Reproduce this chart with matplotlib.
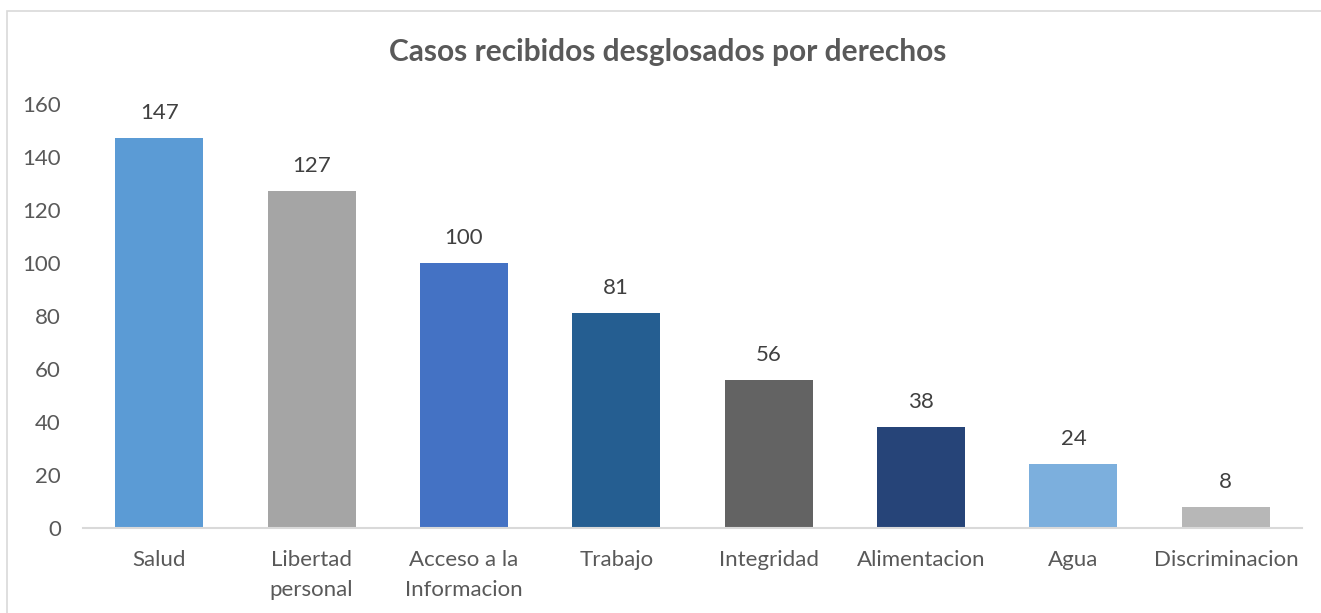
import matplotlib
matplotlib.use("Agg")
import matplotlib.pyplot as plt
from matplotlib.patches import Rectangle

categories = ["Salud", "Libertad\npersonal", "Acceso a la\nInformacion", "Trabajo",
              "Integridad", "Alimentacion", "Agua", "Discriminacion"]
values = [147, 127, 100, 81, 56, 38, 24, 8]
colors = ["#5B9BD5", "#A5A5A5", "#4472C4", "#255E91",
          "#636363", "#264478", "#7CAFDD", "#B7B7B7"]
yticks = [0, 20, 40, 60, 80, 100, 120, 140, 160]
title = "Casos recibidos desglosados por derechos"

plt.rcParams['font.family'] = ['Lato', 'DejaVu Sans']
txt = "#595959"

W, H = 1321, 613
fig = plt.figure(figsize=(W / 100, H / 100), dpi=100)
fig.patches.append(Rectangle((7 / W, -0.1), 1.2, 1 - 11 / H + 0.1,
                             transform=fig.transFigure, fill=False,
                             edgecolor="#D9D9D9", linewidth=1.2))

ax = fig.add_axes([83 / W, 1 - 528 / H, (1302 - 83) / W, (528 - 104) / H])
x = list(range(len(values)))
bars = ax.bar(x, values, width=0.578, color=colors)
ax.set_xlim(-0.5, len(values) - 0.5)
ax.set_ylim(0, 160)
ax.set_yticks(yticks)
ax.set_xticks(x)
ax.set_xticklabels(categories, linespacing=1.6)
for s in ["top", "right", "left"]:
    ax.spines[s].set_visible(False)
ax.spines["bottom"].set_color("#D9D9D9")
ax.spines["bottom"].set_linewidth(1.5)
ax.tick_params(axis="both", length=0, colors=txt, labelsize=16)
ax.tick_params(axis="y", pad=16)
ax.tick_params(axis="x", pad=16)
for xi, v in zip(x, values):
    ax.annotate(str(v), (xi, v), xytext=(0, 18), textcoords="offset points",
                ha="center", va="center", fontsize=16, color="#404040")

fig.text(668 / W, 1 - 52 / H, title, ha="center", va="center",
         fontsize=21.5, fontweight="bold", color=txt)

fig.savefig("out.png", dpi=100)
